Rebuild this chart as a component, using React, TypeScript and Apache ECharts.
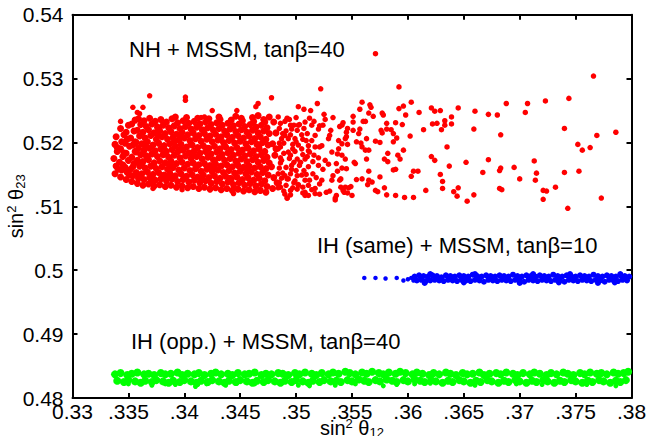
import { useEffect, useRef } from "react";
import * as echarts from "echarts";

const xTickLabels = ["0.33", ".335", ".34", ".345", ".35", ".355", ".36", ".365", ".37", ".375", ".38"];
const yTickLabels = ["0.48", "0.49", "0.5", ".51", "0.52", "0.53", "0.54"];
const annotations = ["NH + MSSM, tanβ=40", "IH (same) + MSSM, tanβ=10", "IH (opp.) + MSSM, tanβ=40"];

// NH + MSSM, tanβ=40 : dense core
const redCore: number[][] = [
  [.3338,.5151],[.3339,.5163],[.3337,.5175],[.3340,.5186],[.3338,.5197],[.3339,.5209],[.3341,.5158],[.3340,.5192],
  [.3343,.5146],[.3344,.5157],[.3342,.5169],[.3345,.5178],[.3343,.5190],[.3344,.5201],[.3346,.5212],[.3343,.5222],[.3345,.5165],[.3346,.5184],
  [.3348,.5142],[.3349,.5153],[.3347,.5161],[.3350,.5172],[.3348,.5183],[.3351,.5194],[.3349,.5205],[.3348,.5216],[.3350,.5227],[.3351,.5149],[.3347,.5199],
  [.3353,.5139],[.3354,.5148],[.3352,.5158],[.3355,.5167],[.3353,.5177],[.3356,.5186],[.3354,.5196],[.3352,.5207],[.3355,.5218],[.3353,.5229],[.3356,.5235],[.3354,.5162],[.3356,.5201],
  [.3358,.5136],[.3359,.5144],[.3357,.5153],[.3360,.5163],[.3358,.5172],[.3361,.5181],[.3359,.5191],[.3357,.5200],[.3360,.5210],[.3358,.5219],[.3361,.5228],[.3359,.5237],[.3361,.5149],[.3357,.5185],
  [.3363,.5133],[.3364,.5142],[.3362,.5151],[.3365,.5160],[.3363,.5170],[.3366,.5179],[.3364,.5188],[.3362,.5198],[.3365,.5207],[.3363,.5216],[.3366,.5225],[.3364,.5234],[.3362,.5166],[.3366,.5193],
  [.3368,.5135],[.3369,.5145],[.3367,.5154],[.3370,.5163],[.3368,.5173],[.3371,.5182],[.3369,.5191],[.3367,.5201],[.3370,.5211],[.3368,.5220],[.3371,.5229],[.3369,.5238],[.3371,.5140],[.3367,.5177],
  [.3373,.5132],[.3374,.5141],[.3372,.5150],[.3375,.5159],[.3373,.5168],[.3376,.5178],[.3374,.5187],[.3372,.5196],[.3375,.5205],[.3373,.5215],[.3376,.5224],[.3374,.5233],[.3372,.5164],[.3376,.5213],
  [.3378,.5134],[.3379,.5143],[.3377,.5153],[.3380,.5162],[.3378,.5171],[.3381,.5181],[.3379,.5190],[.3377,.5199],[.3380,.5209],[.3378,.5218],[.3381,.5227],[.3379,.5236],[.3381,.5148],[.3377,.5222],
  [.3383,.5131],[.3384,.5140],[.3382,.5149],[.3385,.5158],[.3383,.5168],[.3386,.5177],[.3384,.5186],[.3382,.5195],[.3385,.5205],[.3383,.5214],[.3386,.5223],[.3384,.5232],[.3382,.5182],[.3386,.5146],
  [.3388,.5133],[.3389,.5143],[.3387,.5152],[.3390,.5161],[.3388,.5171],[.3391,.5180],[.3389,.5189],[.3387,.5198],[.3390,.5208],[.3388,.5217],[.3391,.5226],[.3389,.5237],[.3387,.5166],[.3391,.5201],
  [.3393,.5130],[.3394,.5139],[.3392,.5148],[.3395,.5157],[.3393,.5167],[.3396,.5176],[.3394,.5185],[.3392,.5194],[.3395,.5204],[.3393,.5213],[.3396,.5222],[.3394,.5231],[.3392,.5240],[.3396,.5189],
  [.3398,.5132],[.3399,.5142],[.3397,.5151],[.3400,.5160],[.3398,.5169],[.3401,.5179],[.3399,.5188],[.3397,.5197],[.3400,.5207],[.3398,.5216],[.3401,.5225],[.3399,.5234],[.3401,.5146],[.3397,.5211],
  [.3403,.5129],[.3404,.5138],[.3402,.5147],[.3405,.5156],[.3403,.5166],[.3406,.5175],[.3404,.5184],[.3402,.5193],[.3405,.5203],[.3403,.5212],[.3406,.5221],[.3404,.5230],[.3402,.5239],[.3406,.5198],
  [.3408,.5131],[.3409,.5141],[.3407,.5150],[.3410,.5159],[.3408,.5168],[.3411,.5178],[.3409,.5187],[.3407,.5196],[.3410,.5206],[.3408,.5215],[.3411,.5224],[.3409,.5233],[.3411,.5163],[.3407,.5181],
  [.3413,.5128],[.3414,.5137],[.3412,.5146],[.3415,.5155],[.3413,.5165],[.3416,.5174],[.3414,.5183],[.3412,.5192],[.3415,.5202],[.3413,.5211],[.3416,.5220],[.3414,.5229],[.3412,.5238],[.3416,.5142],
  [.3418,.5130],[.3419,.5140],[.3417,.5149],[.3420,.5158],[.3418,.5167],[.3421,.5177],[.3419,.5186],[.3417,.5195],[.3420,.5205],[.3418,.5214],[.3421,.5223],[.3419,.5232],[.3421,.5191],[.3417,.5219],
  [.3423,.5127],[.3424,.5136],[.3422,.5145],[.3425,.5154],[.3423,.5164],[.3426,.5173],[.3424,.5182],[.3422,.5191],[.3425,.5201],[.3423,.5210],[.3426,.5219],[.3424,.5228],[.3422,.5237],[.3426,.5158],
  [.3428,.5129],[.3429,.5139],[.3427,.5148],[.3430,.5157],[.3428,.5166],[.3431,.5176],[.3429,.5185],[.3427,.5194],[.3430,.5204],[.3428,.5213],[.3431,.5222],[.3429,.5231],[.3431,.5240],[.3427,.5171],
  [.3433,.5126],[.3434,.5135],[.3432,.5144],[.3435,.5153],[.3433,.5163],[.3436,.5172],[.3434,.5181],[.3432,.5190],[.3435,.5200],[.3433,.5209],[.3436,.5218],[.3434,.5227],[.3432,.5236],[.3436,.5195],
  [.3438,.5128],[.3439,.5138],[.3437,.5147],[.3440,.5156],[.3438,.5165],[.3441,.5175],[.3439,.5184],[.3437,.5193],[.3440,.5203],[.3438,.5212],[.3441,.5221],[.3439,.5230],[.3441,.5144],[.3437,.5216],
  [.3443,.5125],[.3444,.5134],[.3442,.5143],[.3445,.5152],[.3443,.5162],[.3446,.5171],[.3444,.5180],[.3442,.5189],[.3445,.5199],[.3443,.5208],[.3446,.5217],[.3444,.5226],[.3442,.5235],[.3446,.5241],
  [.3448,.5127],[.3449,.5137],[.3447,.5146],[.3450,.5155],[.3448,.5164],[.3451,.5174],[.3449,.5183],[.3447,.5192],[.3450,.5202],[.3448,.5211],[.3451,.5220],[.3449,.5229],[.3451,.5238],[.3447,.5168],
  [.3453,.5124],[.3454,.5133],[.3452,.5142],[.3455,.5151],[.3453,.5161],[.3456,.5170],[.3454,.5179],[.3452,.5188],[.3455,.5198],[.3453,.5207],[.3456,.5216],[.3454,.5225],[.3452,.5234],[.3456,.5192],
  [.3458,.5126],[.3459,.5136],[.3457,.5145],[.3460,.5154],[.3458,.5163],[.3461,.5173],[.3459,.5182],[.3457,.5191],[.3460,.5201],[.3458,.5210],[.3461,.5219],[.3459,.5228],[.3461,.5239],[.3457,.5157],
  [.3463,.5123],[.3464,.5132],[.3462,.5141],[.3465,.5150],[.3463,.5160],[.3466,.5169],[.3464,.5178],[.3462,.5187],[.3465,.5197],[.3463,.5206],[.3466,.5215],[.3464,.5224],[.3462,.5233],[.3466,.5242],
  [.3468,.5125],[.3469,.5135],[.3467,.5144],[.3470,.5153],[.3468,.5162],[.3471,.5172],[.3469,.5181],[.3467,.5190],[.3470,.5200],[.3468,.5209],[.3471,.5218],[.3469,.5227],[.3471,.5236],[.3467,.5196],
  [.3473,.5122],[.3474,.5131],[.3472,.5140],[.3475,.5149],[.3473,.5159],[.3476,.5168],[.3474,.5177],[.3472,.5186],[.3475,.5196],[.3473,.5205],[.3476,.5214],[.3474,.5223],[.3472,.5232],[.3476,.5240],
  [.3479,.5128],[.3480,.5145],[.3478,.5162],[.3481,.5180],[.3479,.5198],[.3482,.5215],[.3480,.5232],[.3483,.5137],[.3482,.5190],
];

// NH + MSSM : moderately dense part
const redMid: number[][] = [
  [.3486,.5230],[.3488,.5214],[.3485,.5199],[.3489,.5183],[.3486,.5168],[.3488,.5152],[.3485,.5137],[.3489,.5124],
  [.3494,.5236],[.3496,.5221],[.3493,.5206],[.3497,.5190],[.3494,.5175],[.3496,.5158],[.3493,.5143],[.3497,.5129],
  [.3503,.5228],[.3505,.5212],[.3502,.5196],[.3506,.5181],[.3503,.5164],[.3505,.5149],[.3502,.5134],[.3506,.5121],
  [.3512,.5238],[.3514,.5203],[.3511,.5187],[.3515,.5170],[.3512,.5141],[.3514,.5126],
  [.3521,.5226],[.3523,.5195],[.3520,.5176],[.3524,.5158],[.3521,.5135],
  [.3530,.5211],[.3532,.5185],[.3529,.5166],[.3533,.5148],[.3530,.5124],
  [.3539,.5225],[.3538,.5190],[.3537,.5155],[.3536,.5117],
  [.3484,.5240],[.3492,.5238],[.3492,.5237],[.3498,.5227],[.3495,.5227],[.3502,.5227],[.3508,.5232],[.3514,.5227],[.3520,.5221],
  [.3524,.5227],[.3531,.5219],[.3541,.5227],[.3545,.5216],[.3490,.5211],[.3499,.5206],[.3509,.5203],[.3517,.5211],[.3529,.5206],
  [.3538,.5203],[.3544,.5206],[.3486,.5193],[.3493,.5185],[.3505,.5190],[.3512,.5185],[.3521,.5193],[.3537,.5182],[.3541,.5180],
  [.3487,.5172],[.3496,.5164],[.3504,.5169],[.3511,.5162],[.3520,.5164],[.3526,.5172],[.3536,.5167],[.3545,.5159],
  [.3484,.5151],[.3492,.5143],[.3501,.5148],[.3508,.5141],[.3515,.5151],[.3523,.5141],[.3532,.5141],[.3539,.5141],
  [.3486,.5130],[.3495,.5125],[.3502,.5133],[.3508,.5122],[.3517,.5128],[.3544,.5130],
  [.3492,.5113],[.3511,.5117],[.3521,.5119],[.3527,.5122],[.3535,.5113],[.3543,.5122],
  [.3485,.5222],[.3487,.5206],[.3484,.5190],[.3486,.5176],[.3485,.5160],[.3487,.5144],[.3484,.5129],
  [.3490,.5233],[.3491,.5218],[.3489,.5199],[.3491,.5161],[.3490,.5148],[.3491,.5133],[.3490,.5119],
  [.3495,.5212],[.3497,.5197],[.3495,.5180],[.3498,.5169],[.3495,.5151],[.3498,.5137],[.3495,.5118],
  [.3500,.5239],[.3501,.5219],[.3500,.5201],[.3499,.5186],[.3501,.5174],[.3500,.5156],[.3499,.5140],[.3501,.5127],
  [.3507,.5222],[.3506,.5205],[.3508,.5174],[.3507,.5156],[.3506,.5130],
  [.3510,.5214],[.3511,.5195],[.3510,.5178],[.3509,.5150],[.3511,.5133],
  [.3516,.5233],[.3517,.5193],[.3516,.5180],[.3518,.5145],[.3517,.5120],
];

// NH + MSSM : sparse points and outliers
const redSparse: number[][] = [
  [.3571,.5339],[.3766,.5304],[.3592,.5287],[.3522,.5284],[.3369,.5273],[.3401,.5271],[.3401,.5266],[.3478,.5270],
  [.3466,.5261],[.3464,.5256],[.3354,.5255],[.3358,.5247],[.3360,.5245],[.3363,.5255],[.3343,.5233],[.3425,.5250],
  [.3415,.5239],[.3418,.5240],[.3447,.5250],[.3519,.5261],[.3502,.5256],[.3507,.5252],[.3513,.5250],[.3525,.5244],
  [.3533,.5239],[.3526,.5236],[.3542,.5231],
  [.3744,.5269],[.3723,.5265],[.3707,.5261],[.3688,.5261],[.3705,.5247],[.3680,.5243],[.3672,.5244],[.3660,.5249],
  [.3645,.5254],[.3740,.5222],[.3786,.5216],[.3769,.5211],[.3752,.5197],[.3763,.5192],[.3756,.5188],[.3659,.5221],
  [.3683,.5212],[.3635,.5193],[.3652,.5169],[.3672,.5173],[.3683,.5160],[.3695,.5161],[.3713,.5171],[.3667,.5153],
  [.3682,.5156],[.3715,.5152],[.3740,.5153],[.3753,.5155],[.3700,.5143],[.3714,.5141],[.3732,.5130],[.3721,.5125],
  [.3724,.5124],[.3721,.5111],[.3743,.5097],[.3773,.5113],[.3682,.5128],[.3684,.5126],[.3659,.5118],[.3653,.5108],
  [.3645,.5129],[.3644,.5116],[.3641,.5123],[.3631,.5139],[.3631,.5128],[.3629,.5150],[.3637,.5163],[.3616,.5125],
  [.3605,.5114],[.3597,.5114],[.3603,.5147],[.3605,.5155],[.3609,.5155],[.3621,.5178],[.3624,.5172],[.3614,.5220],
  [.3622,.5229],[.3626,.5230],[.3630,.5220],[.3633,.5227],[.3633,.5234],[.3639,.5229],[.3639,.5240],[.3629,.5250],
  [.3621,.5254],[.3610,.5247],[.3624,.5249],[.3603,.5263],[.3598,.5243],[.3596,.5257],[.3592,.5253],[.3595,.5228],
  [.3589,.5231],[.3602,.5210],[.3590,.5207],[.3596,.5188],[.3593,.5174],[.3591,.5180],[.3582,.5183],[.3579,.5174],
  [.3582,.5170],[.3587,.5157],[.3589,.5158],[.3581,.5118],[.3589,.5117],[.3579,.5129],[.3575,.5146],[.3571,.5125],
  [.3573,.5123],[.3565,.5141],[.3568,.5138],[.3564,.5134],[.3565,.5155],[.3563,.5174],[.3575,.5200],[.3576,.5219],
  [.3581,.5221],[.3585,.5220],[.3587,.5214],[.3577,.5215],[.3581,.5230],[.3577,.5246],[.3578,.5243],[.3569,.5241],
  [.3565,.5246],[.3567,.5255],[.3566,.5259],[.3559,.5263],[.3557,.5252],[.3551,.5241],[.3551,.5232],[.3560,.5233],
  [.3562,.5233],[.3557,.5221],[.3551,.5219],[.3546,.5222],[.3556,.5214],[.3563,.5206],[.3558,.5199],[.3559,.5193],
  [.3554,.5201],[.3545,.5209],[.3546,.5197],[.3541,.5198],[.3562,.5188],[.3552,.5169],[.3553,.5167],[.3544,.5174],
  [.3541,.5160],[.3554,.5142],[.3559,.5143],[.3549,.5131],[.3550,.5117],[.3547,.5129],[.3540,.5130],[.3542,.5125],
  [.3546,.5121],[.3540,.5143],[.3565,.5188],[.3587,.5201],[.3571,.5202],
  [.3535,.5110],[.3508,.5117],[.3492,.5113],[.3444,.5120],[.3398,.5126],[.3372,.5128],
];

// IH (same) + MSSM, tanβ=10
const blueUpper: number[][] = [
  [.3606,.4990],[.3610,.4992],[.3614,.4991],[.3618,.4990],[.3622,.4992],[.3626,.4991],[.3630,.4989],[.3634,.4992],
  [.3638,.4991],[.3642,.4990],[.3646,.4992],[.3650,.4991],[.3654,.4990],[.3658,.4993],[.3662,.4991],[.3666,.4990],
  [.3670,.4992],[.3674,.4991],[.3678,.4990],[.3682,.4992],[.3686,.4991],[.3690,.4990],[.3694,.4993],[.3698,.4991],
  [.3702,.4990],[.3706,.4992],[.3710,.4991],[.3714,.4990],[.3718,.4992],[.3722,.4991],[.3726,.4990],[.3730,.4993],
  [.3734,.4991],[.3738,.4990],[.3742,.4992],[.3746,.4991],[.3750,.4990],[.3754,.4992],[.3758,.4991],[.3762,.4990],
  [.3766,.4993],[.3770,.4991],[.3774,.4990],[.3778,.4992],[.3782,.4991],[.3786,.4990],[.3790,.4992],[.3794,.4991],
  [.3798,.4990],
];
const blueLower: number[][] = [
  [.3608,.4984],[.3612,.4985],[.3616,.4983],[.3620,.4984],[.3624,.4985],[.3628,.4984],[.3632,.4983],[.3636,.4985],
  [.3640,.4984],[.3644,.4983],[.3648,.4985],[.3652,.4984],[.3656,.4983],[.3660,.4985],[.3664,.4984],[.3668,.4982],
  [.3672,.4985],[.3676,.4984],[.3680,.4983],[.3684,.4985],[.3688,.4984],[.3692,.4983],[.3696,.4985],[.3700,.4984],
  [.3704,.4982],[.3708,.4985],[.3712,.4984],[.3716,.4983],[.3720,.4985],[.3724,.4984],[.3728,.4983],[.3732,.4985],
  [.3736,.4984],[.3740,.4982],[.3744,.4985],[.3748,.4984],[.3752,.4983],[.3756,.4985],[.3760,.4984],[.3764,.4983],
  [.3768,.4985],[.3772,.4984],[.3776,.4982],[.3780,.4985],[.3784,.4984],[.3788,.4983],[.3792,.4985],[.3796,.4984],
  [.3615,.4980],[.3650,.4981],[.3700,.4980],[.3735,.4981],[.3770,.4980],[.3785,.4981],
  [.3660,.4994],[.3712,.4994],[.3745,.4994],[.3790,.4994],[.3620,.4994],
];
const blueSparse: number[][] = [
  [.3561,.4988],[.3571,.4988],[.3580,.4987],[.3590,.4988],[.3596,.4984],[.3600,.4986],[.3603,.4988],[.3605,.4984],
];

// IH (opp.) + MSSM, tanβ=40
const greenUpper: number[][] = [
  [.3338,.4837],[.3343,.4839],[.3349,.4836],[.3353,.4838],[.3358,.4840],[.3364,.4837],[.3368,.4838],[.3373,.4836],
  [.3379,.4839],[.3383,.4837],[.3388,.4838],[.3394,.4840],[.3398,.4836],[.3403,.4838],[.3409,.4837],[.3413,.4839],
  [.3418,.4836],[.3424,.4838],[.3428,.4840],[.3433,.4837],[.3439,.4838],[.3443,.4836],[.3448,.4839],[.3454,.4837],
  [.3458,.4838],[.3463,.4840],[.3469,.4836],[.3473,.4838],[.3478,.4837],[.3484,.4839],[.3488,.4838],[.3493,.4836],
  [.3499,.4839],[.3503,.4837],[.3508,.4840],[.3514,.4838],[.3518,.4836],[.3523,.4839],[.3529,.4837],[.3533,.4840],
  [.3538,.4838],[.3544,.4841],[.3548,.4839],[.3553,.4837],[.3559,.4840],[.3563,.4838],[.3568,.4841],[.3574,.4839],
  [.3578,.4837],[.3583,.4840],[.3589,.4838],[.3593,.4841],[.3598,.4839],[.3604,.4837],[.3608,.4840],[.3613,.4838],
  [.3619,.4836],[.3623,.4839],[.3628,.4837],[.3634,.4840],[.3638,.4838],[.3643,.4836],[.3649,.4839],[.3653,.4837],
  [.3658,.4838],[.3664,.4840],[.3668,.4836],[.3673,.4838],[.3679,.4839],[.3683,.4837],[.3688,.4840],[.3694,.4838],
  [.3698,.4836],[.3703,.4839],[.3709,.4837],[.3713,.4840],[.3718,.4838],[.3724,.4836],[.3728,.4839],[.3733,.4837],
  [.3739,.4840],[.3743,.4838],[.3748,.4836],[.3754,.4839],[.3758,.4837],[.3763,.4840],[.3769,.4838],[.3773,.4839],
  [.3778,.4837],[.3784,.4840],[.3788,.4838],[.3793,.4839],[.3797,.4841],
];
const greenLower: number[][] = [
  [.3340,.4827],[.3346,.4825],[.3350,.4828],[.3356,.4826],[.3361,.4824],[.3365,.4827],[.3371,.4825],[.3375,.4828],
  [.3381,.4826],[.3386,.4824],[.3390,.4827],[.3396,.4825],[.3400,.4828],[.3406,.4826],[.3411,.4824],[.3415,.4827],
  [.3421,.4825],[.3425,.4828],[.3431,.4826],[.3436,.4824],[.3440,.4827],[.3446,.4825],[.3450,.4828],[.3456,.4826],
  [.3461,.4824],[.3465,.4827],[.3471,.4825],[.3475,.4828],[.3481,.4826],[.3486,.4824],[.3490,.4827],[.3496,.4825],
  [.3500,.4828],[.3506,.4826],[.3511,.4824],[.3515,.4827],[.3521,.4825],[.3525,.4828],[.3531,.4826],[.3536,.4827],
  [.3540,.4825],[.3546,.4828],[.3550,.4826],[.3556,.4829],[.3561,.4827],[.3565,.4825],[.3571,.4828],[.3575,.4826],
  [.3581,.4829],[.3586,.4827],[.3590,.4825],[.3596,.4828],[.3600,.4826],[.3606,.4829],[.3611,.4827],[.3615,.4825],
  [.3621,.4828],[.3625,.4826],[.3631,.4824],[.3636,.4827],[.3640,.4825],[.3646,.4828],[.3650,.4826],[.3656,.4824],
  [.3661,.4827],[.3665,.4825],[.3671,.4828],[.3675,.4826],[.3681,.4824],[.3686,.4827],[.3690,.4825],[.3696,.4828],
  [.3700,.4826],[.3706,.4824],[.3711,.4827],[.3715,.4825],[.3721,.4828],[.3725,.4826],[.3731,.4824],[.3736,.4827],
  [.3740,.4825],[.3746,.4828],[.3750,.4826],[.3756,.4824],[.3761,.4827],[.3765,.4825],[.3771,.4828],[.3775,.4826],
  [.3781,.4824],[.3786,.4827],[.3790,.4825],[.3795,.4828],
];
const greenOutliers: number[][] = [
  [.3371,.4820],[.3383,.4822],[.3410,.4818],[.3412,.4821],[.3420,.4822],[.3437,.4820],[.3463,.4822],[.3502,.4820],
  [.3512,.4819],[.3535,.4820],[.3553,.4822],[.3578,.4819],[.3590,.4821],[.3606,.4822],[.3660,.4820],[.3697,.4822],
  [.3720,.4821],[.3760,.4821],[.3786,.4819],[.3350,.4822],[.3392,.4821],[.3447,.4823],[.3620,.4823],[.3740,.4823],
];

const FONT = "Liberation Sans";

export default function App() {
  const ref = useRef<HTMLDivElement>(null);
  useEffect(() => {
    if (!ref.current) return;
    const chart = echarts.init(ref.current, null, { renderer: "svg" });
    const rich = {
      t: { fontSize: 20, fontFamily: FONT, color: "#000", lineHeight: 22 },
      sup: { fontSize: 13, fontFamily: FONT, color: "#000", lineHeight: 12, verticalAlign: "top" },
      sub: { fontSize: 13, fontFamily: FONT, color: "#000", lineHeight: 12, verticalAlign: "bottom" },
    };
    const axisLine = { show: true, onZero: false, lineStyle: { color: "#000", width: 2 } };
    const axisTick = { show: true, inside: true, length: 5, lineStyle: { color: "#000", width: 2 } };
    const xIdx = (v: number) => Math.round((v - 0.33) / 0.005);
    const yIdx = (v: number) => Math.round((v - 0.48) / 0.01);
    const dot = (color: string) => ({ color, opacity: 1, borderWidth: 0 });
    const option: any = {
      animation: false,
      backgroundColor: "#fff",
      grid: { left: 72.5, right: 22.5, top: 14.7, bottom: 38, containLabel: false, outerBoundsMode: "none" },
      xAxis: [
        {
          type: "value", min: 0.33, max: 0.38, interval: 0.005, position: "bottom",
          axisLine, axisTick, splitLine: { show: false },
          axisLabel: {
            show: true, margin: 3, fontSize: 21, color: "#000", fontFamily: FONT,
            showMinLabel: true, showMaxLabel: true,
            formatter: (v: number) => xTickLabels[xIdx(v)] ?? "",
          },
          name: "{t|sin}{sup|2}{t| θ}{sub|12}", nameLocation: "middle", nameGap: 19, nameMoveOverlap: false,
          nameTextStyle: { rich },
        },
        {
          type: "value", min: 0.33, max: 0.38, interval: 0.005, position: "top",
          axisLine, axisTick, splitLine: { show: false }, axisLabel: { show: false },
        },
      ],
      yAxis: [
        {
          type: "value", min: 0.48, max: 0.54, interval: 0.01, position: "left",
          axisLine, axisTick, splitLine: { show: false },
          axisLabel: {
            show: true, margin: 9, fontSize: 21, color: "#000", fontFamily: FONT,
            showMinLabel: true, showMaxLabel: true,
            formatter: (v: number) => yTickLabels[yIdx(v)] ?? "",
          },
          name: "{t|sin}{sup|2}{t| θ}{sub|23}", nameLocation: "middle", nameGap: 46, nameRotate: 90, nameMoveOverlap: false,
          nameTextStyle: { rich },
        },
        {
          type: "value", min: 0.48, max: 0.54, interval: 0.01, position: "right",
          axisLine, axisTick, splitLine: { show: false }, axisLabel: { show: false },
        },
      ],
      graphic: [
        { type: "text", x: 129, y: 49, style: { text: annotations[0], fontSize: 22, fontFamily: FONT, fill: "#000", align: "left", verticalAlign: "middle" } },
        { type: "text", x: 317, y: 245, style: { text: annotations[1], fontSize: 22, fontFamily: FONT, fill: "#000", align: "left", verticalAlign: "middle" } },
        { type: "text", x: 131, y: 341, style: { text: annotations[2], fontSize: 22, fontFamily: FONT, fill: "#000", align: "left", verticalAlign: "middle" } },
      ],
      series: [
        {
          type: "scatter", name: "NH core", xAxisIndex: 0, yAxisIndex: 0, symbol: "circle", symbolSize: 7,
          itemStyle: dot("#ff0000"), data: redCore,
        },
        {
          type: "scatter", name: "NH", xAxisIndex: 0, yAxisIndex: 0, symbol: "circle", symbolSize: 5.5,
          itemStyle: dot("#ff0000"), data: [...redMid, ...redSparse],
        },
        {
          type: "scatter", name: "IH same", xAxisIndex: 0, yAxisIndex: 0, symbol: "circle", symbolSize: 6,
          itemStyle: dot("#0000ff"), data: [...blueUpper, ...blueLower],
        },
        {
          type: "scatter", name: "IH same sparse", xAxisIndex: 0, yAxisIndex: 0, symbol: "circle", symbolSize: 4.5,
          itemStyle: dot("#0000ff"), data: blueSparse,
        },
        {
          type: "scatter", name: "IH opp", xAxisIndex: 0, yAxisIndex: 0, symbol: "circle", symbolSize: 8,
          itemStyle: dot("#00ff00"), data: [...greenUpper, ...greenLower],
        },
        {
          type: "scatter", name: "IH opp out", xAxisIndex: 0, yAxisIndex: 0, symbol: "circle", symbolSize: 5,
          itemStyle: dot("#00ff00"), data: greenOutliers,
        },
      ],
    };
    chart.setOption(option);
    return () => chart.dispose();
  }, []);
  return (
    <div
      ref={ref}
      style={{ position: "fixed", left: 0, top: 0, width: 654, height: 436, background: "#fff" }}
    />
  );
}
